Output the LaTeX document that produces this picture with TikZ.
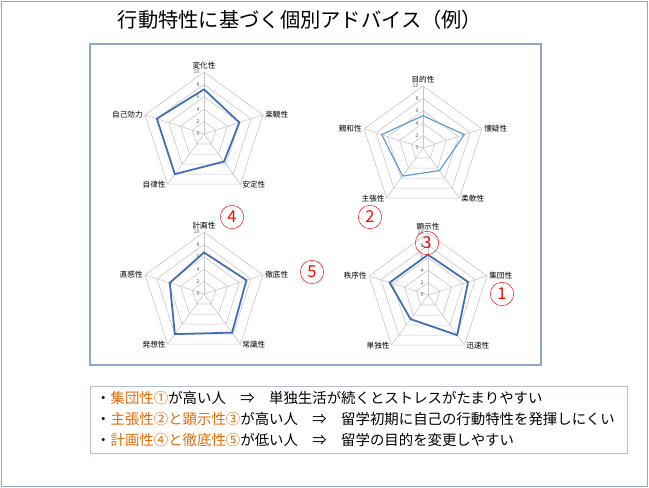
\documentclass[tikz,border=0pt]{standalone}
\usepackage{fontspec}
\setmainfont{Noto Sans CJK JP}
\usetikzlibrary{calc}
\definecolor{frameblue}{HTML}{8EA8CB}
\definecolor{lineblue}{HTML}{3E6DB5}
\definecolor{lightblue}{HTML}{5B9BD5}
\definecolor{orangetext}{HTML}{E46C0A}
\tikzstyle{grid}=[draw=gray!45,line width=0.5pt]
\tikzstyle{axislabel}=[font=\fontsize{6.5}{7}\selectfont,inner sep=1pt]
\tikzstyle{ticklabel}=[font=\fontsize{4.5}{5}\selectfont,text=gray!70!black,inner sep=1pt,anchor=east]
\tikzstyle{marker}=[circle,draw=red,text=red,minimum size=20pt,inner sep=0pt,font=\fontsize{14}{14}\selectfont]
\tikzstyle{advice}=[anchor=west,font=\fontsize{12.3}{13}\selectfont,inner sep=0pt]
\newcommand\radarchart[9]{%
  \coordinate (#1) at #2;
  \foreach \k in {2,4,...,10}
    \draw[grid] ($(#1)+(-90:\k*6.2)$) \foreach \a in {-18,54,126,198}{-- ($(#1)+(\a:\k*6.2)$)} -- cycle;
  \foreach \a in {-90,-18,54,126,198}
    \draw[grid] (#1) -- ($(#1)+(\a:62)$);
  \foreach \k in {0,2,...,10}
    \node[ticklabel] at ($(#1)+(-3,-\k*6.2)$) {\k};
  \foreach \lab/\anc [count=\i] in {#3}
    \node[axislabel,anchor=\anc] (#1-\i) at ($(#1)+(-162+72*\i:63)$) {\lab};
  \draw[#9] ($(#1)+(-90:#4*6.2)$) -- ($(#1)+(-18:#5*6.2)$) -- ($(#1)+(54:#6*6.2)$)
    -- ($(#1)+(126:#7*6.2)$) -- ($(#1)+(198:#8*6.2)$) -- cycle;
}
\begin{document}
\begin{tikzpicture}[x=0.03cm,y=-0.03cm]
\useasboundingbox (0,0) rectangle (649,488);
\draw[frameblue] (1,1) rectangle (647,486);
\node(title)[font=\fontsize{17.3}{18}\selectfont] at (300,20) {行動特性に基づく個別アドバイス（例）};
\draw[frameblue,line width=1pt] (90,44) rectangle (541,365);
% charts
\radarchart{chartA}{(204,134)}{変化性/south,楽観性/west,安定性/west,自律性/east,自己効力/east}{7.2}{6}{5.5}{8}{8}{lineblue,line width=1.5pt}
\radarchart{chartB}{(423,148)}{目的性/south,懐疑性/west,柔軟性/west,主張性/east,親和性/east}{5.2}{7}{4.5}{5.6}{7}{lightblue,line width=1pt}
\radarchart{chartC}{(204,294)}{計画性/south,徹底性/west,常識性/west,発想性/east,直感性/east}{6.7}{7.2}{7.7}{8}{5.8}{lineblue,line width=1.5pt}
\radarchart{chartD}{(428,295)}{顕示性/south,集団性/west,迅速性/west,単独性/east,秩序性/east}{6.5}{6.8}{8}{4.8}{6.5}{lineblue,line width=1.5pt}
% markers
\node(m4)[marker] at (232,217) {4};
\node(m2)[marker] at (370,217) {2};
\node(m3)[marker] at (427,243) {3};
\node(m5)[marker] at (312,272) {5};
\node(m1)[marker] at (502,294) {1};
% advice
\draw[frameblue!70] (90,386) rectangle (627,453);
\node(a1)[advice] at (96,398) {・\textcolor{orangetext}{集団性①}が高い人\quad ⇒\quad 単独生活が続くとストレスがたまりやすい};
\node(a2)[advice] at (96,419) {・\textcolor{orangetext}{主張性②と顕示性③}が高い人\quad ⇒\quad 留学初期に自己の行動特性を発揮しにくい};
\node(a3)[advice] at (96,440) {・\textcolor{orangetext}{計画性④と徹底性⑤}が低い人\quad ⇒\quad 留学の目的を変更しやすい};
\end{tikzpicture}
\end{document}
